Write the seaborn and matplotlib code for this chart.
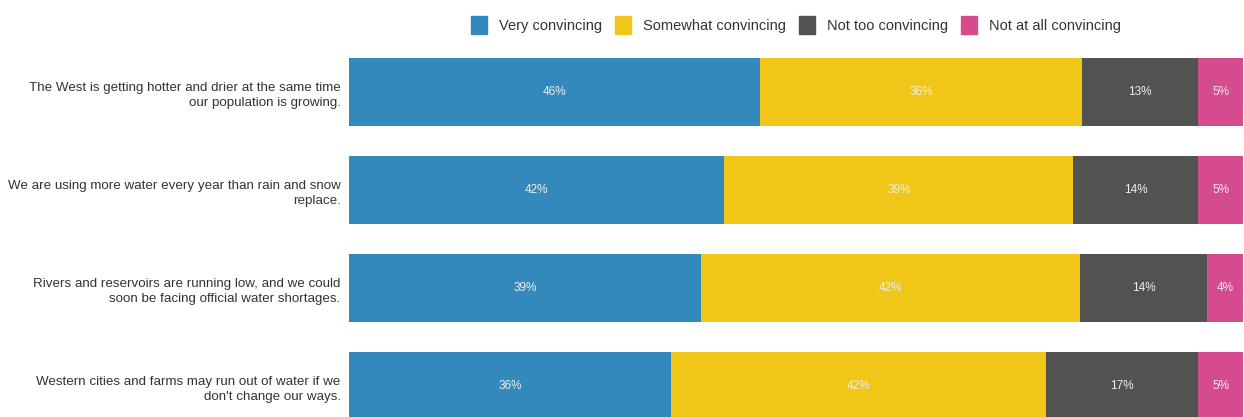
import numpy as np
import matplotlib
matplotlib.use("Agg")
import matplotlib.pyplot as plt
import matplotlib.patches as mpatches
import pandas as pd
import seaborn as sns

# data
statements = [
    "The West is getting hotter and drier at the same time\nour population is growing.",
    "We are using more water every year than rain and snow\nreplace.",
    "Rivers and reservoirs are running low, and we could\nsoon be facing official water shortages.",
    "Western cities and farms may run out of water if we\ndon't change our ways.",
]
categories = ["Very convincing", "Somewhat convincing", "Not too convincing", "Not at all convincing"]
very = [46, 42, 39, 36]
somewhat = [36, 39, 42, 42]
not_too = [13, 14, 14, 17]
not_at_all = [5, 5, 4, 5]
colors = ["#3388bc", "#f0c619", "#525350", "#d64b8d"]

sns.set_style("white")
plt.rcParams["font.family"] = ["Liberation Sans", "DejaVu Sans"]

df = pd.DataFrame({"statement": statements, categories[0]: very, categories[1]: somewhat,
                   categories[2]: not_too, categories[3]: not_at_all})
vals = df[categories].values.astype(float)
# each bar fills the full width (shares of the row total)
shares = vals / vals.sum(axis=1, keepdims=True) * 100
cum = shares.cumsum(axis=1)

fig = plt.figure(figsize=(12.44, 4.17), dpi=100)
ax = fig.add_axes([349 / 1244, 0, (1243 - 349) / 1244, 1 - 48 / 417])

# stacked bars: draw the cumulative totals from the widest down
for i in range(len(categories) - 1, -1, -1):
    sns.barplot(x=cum[:, i], y=df["statement"], color=colors[i], width=0.694,
                orient="h", ax=ax, saturation=1, linewidth=0)

# percentage labels in the middle of each segment
for r in range(len(statements)):
    for i in range(len(categories)):
        left = cum[r, i] - shares[r, i]
        ax.text(left + shares[r, i] / 2, r, f"{int(vals[r, i])}%", ha="center", va="center",
                color="#eeeeee", fontsize=8.5)

ax.set_xlim(0, 100)
ax.set_ylim(3 + (417 - 386) / 98, -(92 - 48) / 98)
ax.set_xlabel("")
ax.set_ylabel("")
ax.set_xticks([])
ax.tick_params(axis="y", length=0, pad=6)
for lbl in ax.get_yticklabels():
    lbl.set_fontsize(9.6)
    lbl.set_color("#333333")
    lbl.set_linespacing(1.4)
for s in ax.spines.values():
    s.set_visible(False)

handles = [mpatches.Patch(color=c, label=l) for c, l in zip(colors, categories)]
ax.legend(handles=handles, loc="center", bbox_to_anchor=(0.5, 1 + 23 / 369), ncol=4,
          frameon=False, fontsize=10.5, handlelength=1.1, handleheight=1.5,
          handletextpad=0.8, columnspacing=0.9, labelcolor="#333333")

fig.savefig("out.png", dpi=100)
